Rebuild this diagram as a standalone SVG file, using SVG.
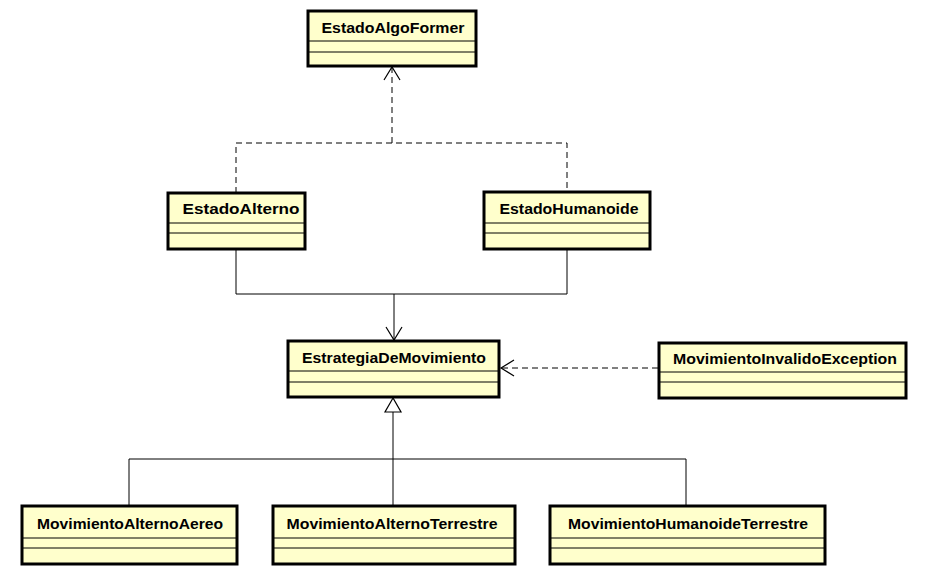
<svg xmlns="http://www.w3.org/2000/svg" width="930" height="575" viewBox="0 0 930 575">
<style>
.box{fill:#ffffcc;stroke:#000;stroke-width:3}
.div{stroke:#000;stroke-width:1}
.t{font-family:"Liberation Sans",Arial,sans-serif;font-weight:bold;font-size:15px;fill:#000;text-anchor:middle}
.c{fill:none;stroke:#000;stroke-width:1}
.d{stroke-dasharray:6,4}
.h{fill:none;stroke:#000;stroke-width:1.2}
</style>
<rect width="930" height="575" fill="#fff"/>
<g id="connectors">
<path class="c d" d="M236,193 V143 H567 V192"/>
<path class="c d" d="M392,143 V67"/>
<path class="h" d="M384,80 L392,67 L400,80"/>
<path class="c" d="M236,249 V294 H567 V249"/>
<path class="c" d="M394,294 V340"/>
<path class="h" d="M386,327 L394,340 L402,327"/>
<path class="c d" d="M658,368 H501"/>
<path class="h" d="M514,360 L501,368 L514,376"/>
<path class="c" d="M129,506 V459 H686 V506"/>
<path class="c" d="M393,506 V412"/>
<path d="M393,398 L385,412 L401,412 Z" fill="#fff" stroke="#000" stroke-width="1.2"/>
</g>
<g id="EstadoAlgoFormer">
<rect class="box" x="308" y="11" width="168" height="55"/>
<line class="div" x1="308" y1="41" x2="476" y2="41"/><line class="div" x1="308" y1="52" x2="476" y2="52"/>
<text class="t" x="393" y="33" textLength="143" lengthAdjust="spacingAndGlyphs">EstadoAlgoFormer</text>
</g>
<g id="EstadoAlterno">
<rect class="box" x="168" y="193" width="137" height="56"/>
<line class="div" x1="168" y1="223" x2="305" y2="223"/><line class="div" x1="168" y1="233" x2="305" y2="233"/>
<text class="t" x="241" y="214" textLength="117" lengthAdjust="spacingAndGlyphs">EstadoAlterno</text>
</g>
<g id="EstadoHumanoide">
<rect class="box" x="484" y="192" width="166" height="57"/>
<line class="div" x1="484" y1="223" x2="650" y2="223"/><line class="div" x1="484" y1="233" x2="650" y2="233"/>
<text class="t" x="569" y="214" textLength="139" lengthAdjust="spacingAndGlyphs">EstadoHumanoide</text>
</g>
<g id="EstrategiaDeMovimiento">
<rect class="box" x="288" y="341" width="211" height="56"/>
<line class="div" x1="288" y1="371" x2="499" y2="371"/><line class="div" x1="288" y1="382" x2="499" y2="382"/>
<text class="t" x="394" y="363" textLength="184" lengthAdjust="spacingAndGlyphs">EstrategiaDeMovimiento</text>
</g>
<g id="MovimientoInvalidoException">
<rect class="box" x="659" y="343" width="247" height="55"/>
<line class="div" x1="659" y1="372" x2="906" y2="372"/><line class="div" x1="659" y1="382" x2="906" y2="382"/>
<text class="t" x="785" y="364" textLength="224" lengthAdjust="spacingAndGlyphs">MovimientoInvalidoException</text>
</g>
<g id="MovimientoAlternoAereo">
<rect class="box" x="22" y="506" width="215" height="58"/>
<line class="div" x1="22" y1="538" x2="237" y2="538"/><line class="div" x1="22" y1="548" x2="237" y2="548"/>
<text class="t" x="130" y="529" textLength="186" lengthAdjust="spacingAndGlyphs">MovimientoAlternoAereo</text>
</g>
<g id="MovimientoAlternoTerrestre">
<rect class="box" x="273" y="506" width="242" height="58"/>
<line class="div" x1="273" y1="538" x2="515" y2="538"/><line class="div" x1="273" y1="548" x2="515" y2="548"/>
<text class="t" x="392" y="529" textLength="211" lengthAdjust="spacingAndGlyphs">MovimientoAlternoTerrestre</text>
</g>
<g id="MovimientoHumanoideTerrestre">
<rect class="box" x="550" y="506" width="275" height="58"/>
<line class="div" x1="550" y1="538" x2="825" y2="538"/><line class="div" x1="550" y1="548" x2="825" y2="548"/>
<text class="t" x="688" y="529" textLength="240" lengthAdjust="spacingAndGlyphs">MovimientoHumanoideTerrestre</text>
</g>
</svg>
